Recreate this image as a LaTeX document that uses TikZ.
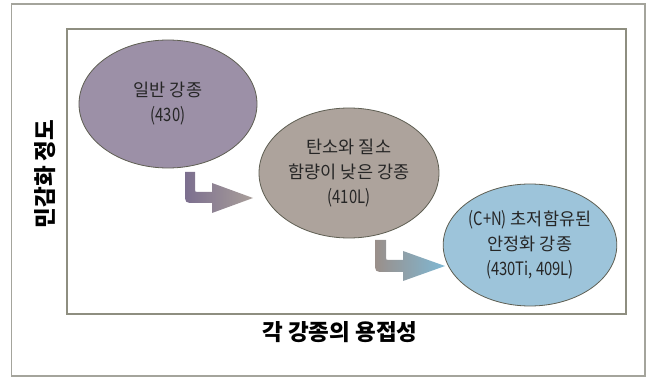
\documentclass[tikz,border=0pt]{standalone}
\usepackage{fontspec}
\setmainfont{Noto Sans CJK KR}
\newfontfamily\latn{Noto Sans CJK KR}[FakeStretch=0.8]
\usetikzlibrary{shapes.geometric}
\definecolor{framegray}{HTML}{A4A49C}
\definecolor{innergray}{HTML}{8E8E80}
\definecolor{edgecol}{HTML}{5E5E52}
\definecolor{eonefill}{HTML}{9C90A7}
\definecolor{etwofill}{HTML}{ADA39C}
\definecolor{ethreefill}{HTML}{9DC4DA}
\definecolor{txt}{HTML}{262626}
\definecolor{aoneL}{HTML}{7C6F8F}
\definecolor{aoneR}{HTML}{A99F9A}
\definecolor{atwoL}{HTML}{9A8F8A}
\definecolor{atwoR}{HTML}{7FB8D4}
\newcommand{\lt}[1]{{\latn\fontsize{18.5}{25}\selectfont #1}}
\begin{document}
\begin{tikzpicture}[x=1pt,y=-1pt,
  blob/.style={ellipse, draw=edgecol, line width=0.8pt, inner sep=0pt, align=center, text=txt,
    font=\fontsize{17.5}{25}\selectfont},
  axislabel/.style={font=\bfseries\fontsize{22.5}{26}\selectfont, text=black, inner sep=0pt}]
\useasboundingbox (0,0) rectangle (648,379);
\draw[framegray, line width=1.5pt] (11.5,4) rectangle (645,376);
\draw[innergray, line width=1.5pt] (67,29) rectangle (626,314);
% arrows
\shade[left color=aoneL, right color=aoneR]
  (185,172) -- (185,193) .. controls (185,203) .. (195,203) -- (212,203) -- (212,213)
  -- (253,198) -- (212,183) -- (212,192) -- (198,192) .. controls (195,192) .. (195,189)
  -- (195,172) -- cycle;
\shade[left color=atwoL, right color=atwoR]
  (375,240) -- (375,262) .. controls (375,272) .. (385,272) -- (403,272) -- (403,281)
  -- (445,266) -- (403,251) -- (403,260) -- (389,260) .. controls (386,260) .. (386,257)
  -- (386,240) -- cycle;
% ellipses
\node[blob, fill=eonefill, minimum width=178pt, minimum height=128pt] (e1) at (168,104) {일반 강종\\\lt{(430)}};
\node[blob, fill=etwofill, minimum width=180pt, minimum height=130pt] (e2) at (349,173) {탄소와 질소\\함량이 낮은 강종\\\lt{(410L)}};
\node[blob, fill=ethreefill, minimum width=172pt, minimum height=122pt] (e3) at (530,245) {\lt{(C+N)} 초저함유된\\안정화 강종\\\lt{(430Ti, 409L)}};
% axis labels
\node[axislabel] (xl) at (340,332) {각 강종의 용접성};
\node[axislabel, rotate=90] (yl) at (45,174) {민감화 정도};
\end{tikzpicture}
\end{document}
